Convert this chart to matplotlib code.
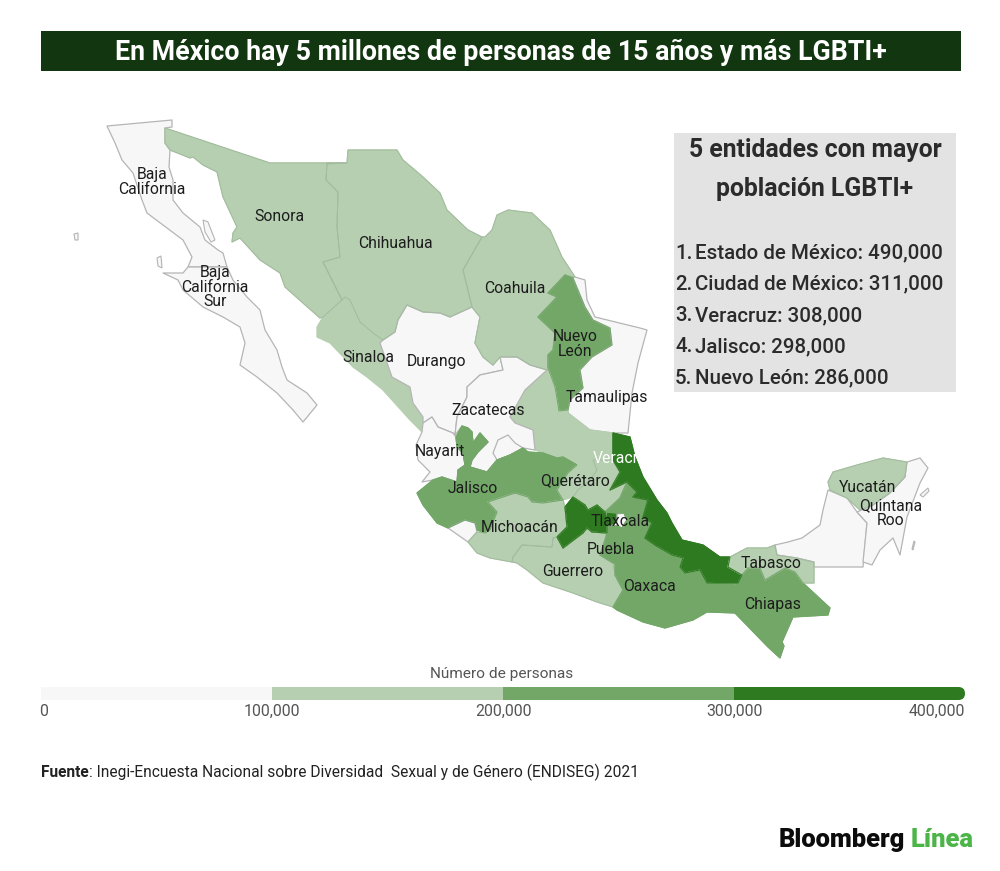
import numpy as np
import matplotlib
matplotlib.use("Agg")
import matplotlib.pyplot as plt
from matplotlib.patches import Polygon, Rectangle, FancyBboxPatch

plt.rcParams["font.family"] = ["Roboto", "DejaVu Sans"]

# estimated people per state, only the top five are printed in the source
states = ["Baja California", "Baja California Sur", "Sonora", "Chihuahua", "Sinaloa", "Durango",
          "Coahuila", "Nuevo Leon", "Tamaulipas", "San Luis Potosi", "Zacatecas", "Aguascalientes",
          "Nayarit", "Jalisco", "Colima", "Guanajuato", "Queretaro", "Hidalgo", "Michoacan",
          "Guerrero", "Estado de Mexico", "Ciudad de Mexico", "Tlaxcala", "Puebla", "Veracruz",
          "Oaxaca", "Chiapas", "Tabasco", "Campeche", "Yucatan", "Quintana Roo"]
values = [95000, 20000, 110000, 125000, 110000, 60000,
          120000, 286000, 95000, 105000, 60000, 50000,
          50000, 298000, 30000, 220000, 115000, 110000, 180000,
          120000, 490000, 311000, 50000, 240000, 308000,
          205000, 210000, 105000, 40000, 110000, 70000]

# state outlines, in image pixels
outlines = {
    "Baja California": [(107,126),(172,120),(172,127),(165,128),(165,143),(170,150),(169,167),(173,180),(173,200),(183,213),(200,227),(205,240),(218,250),(223,253),(227,267),(188,267),(192,257),(183,240),(163,225),(147,213),(142,200),(133,173),(122,160),(115,143)],
    "Baja California Sur": [(188,267),(227,267),(233,280),(247,297),(260,310),(265,330),(277,350),(282,367),(287,380),(307,393),(317,405),(303,422),(293,410),(277,393),(257,377),(240,365),(245,343),(240,327),(223,317),(203,307),(183,290),(178,280),(163,273),(183,273)],
    "Sonora": [(165,128),(270,163),(347,163),(327,164),(326,180),(338,192),(337,227),(340,257),(323,262),(337,290),(342,300),(323,317),(320,318),(303,303),(285,287),(280,273),(260,260),(240,238),(232,242),(233,233),(237,227),(223,197),(217,172),(203,165),(193,157),(190,158),(170,150),(165,143)],
    "Chihuahua": [(327,163),(347,163),(348,150),(397,150),(403,160),(423,177),(440,193),(447,210),(468,230),(482,237),(463,270),(472,307),(450,317),(440,313),(423,312),(407,305),(398,320),(395,332),(383,340),(373,333),(360,322),(350,300),(345,297),(342,300),(337,290),(323,262),(340,257),(337,227),(338,192),(326,180)],
    "Sinaloa": [(342,300),(345,297),(350,300),(360,322),(373,333),(383,340),(380,343),(392,377),(410,387),(413,403),(423,417),(422,432),(410,420),(383,390),(367,377),(353,367),(330,343),(317,337),(317,327),(323,317)],
    "Durango": [(398,320),(407,305),(423,312),(440,313),(450,317),(472,307),(480,317),(475,343),(483,357),(493,365),(500,357),(503,370),(480,375),(467,387),(467,397),(457,417),(455,435),(453,433),(438,427),(432,417),(423,423),(423,417),(413,403),(410,387),(392,377),(380,343),(383,340),(395,332)],
    "Coahuila": [(482,237),(485,237),(492,230),(497,215),(508,210),(532,213),(550,230),(562,257),(575,277),(565,275),(548,293),(557,297),(538,317),(555,333),(553,350),(548,355),(548,370),(547,370),(530,365),(517,357),(500,357),(493,365),(483,357),(475,343),(480,317),(472,307),(463,270)],
    "Nuevo Leon": [(565,275),(573,278),(585,307),(593,320),(610,328),(612,345),(592,357),(580,370),(583,388),(570,400),(568,410),(559,411),(555,387),(548,368),(548,355),(553,350),(555,333),(538,317),(557,297),(548,293)],
    "Tamaulipas": [(575,277),(585,280),(587,300),(595,317),(640,328),(647,330),(638,363),(632,393),(628,433),(613,433),(590,430),(568,413),(568,410),(570,400),(583,388),(580,370),(592,357),(612,345),(610,328),(593,320),(585,307),(573,278)],
    "San Luis Potosi": [(547,370),(548,368),(555,387),(559,411),(568,410),(568,413),(590,430),(613,433),(612,460),(593,460),(577,465),(563,457),(557,458),(535,450),(533,430),(515,423),(510,417),(525,390)],
    "Zacatecas": [(547,370),(530,365),(517,357),(500,357),(503,370),(480,375),(467,387),(467,397),(457,417),(455,435),(462,426),(468,428),(472,432),(473,443),(480,433),(488,442),(478,452),(472,460),(470,467),(487,472),(497,460),(510,455),(523,448),(535,450),(533,430),(515,423),(510,417),(525,390)],
    "Aguascalientes": [(497,460),(493,453),(498,440),(508,435),(515,443),(523,448),(510,455)],
    "Nayarit": [(422,432),(423,423),(432,417),(438,427),(453,433),(456,437),(457,447),(463,453),(465,465),(458,470),(457,482),(442,477),(433,480),(422,482),(430,472),(418,460),(416,445)],
    "Jalisco": [(462,426),(468,428),(472,432),(473,443),(480,433),(488,442),(478,452),(472,460),(470,467),(487,472),(497,460),(510,455),(523,448),(528,452),(520,465),(515,480),(515,493),(488,502),(497,512),(490,530),(485,533),(477,530),(475,523),(465,520),(448,528),(437,523),(423,505),(417,493),(433,480),(442,477),(457,482),(458,470),(465,465),(463,453),(457,447),(456,437)],
    "Colima": [(448,528),(465,520),(475,523),(477,532),(468,542)],
    "Guanajuato": [(528,452),(543,453),(557,458),(563,457),(577,465),(568,473),(557,490),(563,500),(543,503),(532,502),(528,497),(515,493),(515,480),(520,465)],
    "Queretaro": [(577,465),(593,460),(597,470),(590,480),(578,490),(573,497),(563,500),(557,490),(568,473)],
    "Hidalgo": [(593,460),(612,460),(620,472),(610,490),(627,482),(620,498),(605,512),(597,505),(588,510),(585,505),(573,497),(578,490),(590,480),(597,470)],
    "Michoacan": [(488,502),(515,493),(528,497),(532,502),(543,503),(563,500),(565,507),(567,527),(557,537),(553,538),(552,547),(522,545),(513,557),(512,562),(490,558),(477,553),(468,542),(477,532),(485,533),(490,530),(497,512)],
    "Guerrero": [(512,562),(513,557),(522,545),(552,547),(553,538),(557,537),(563,548),(583,533),(587,528),(592,532),(607,533),(605,540),(600,555),(613,563),(615,575),(623,590),(613,607),(597,602),(573,593),(543,583),(527,570),(517,563)],
    "Estado de Mexico": [(573,497),(585,505),(588,510),(597,505),(605,512),(607,522),(607,533),(592,532),(587,528),(583,533),(563,548),(557,537),(567,527),(565,507)],
    "Ciudad de Mexico": [(607,512),(617,513),(618,522),(607,526)],
    "Tlaxcala": [(617,514),(624,513),(627,520),(622,528),(617,526)],
    "Puebla": [(627,482),(637,492),(633,497),(648,500),(643,517),(652,523),(645,538),(658,547),(643,555),(630,562),(613,563),(600,555),(605,540),(607,533),(607,526),(617,526),(622,528),(627,520),(624,513),(617,513),(605,512),(620,498)],
    "Veracruz": [(613,433),(630,437),(635,457),(643,477),(657,500),(667,513),(672,523),(682,540),(703,545),(720,557),(730,557),(728,567),(742,575),(738,583),(707,583),(700,570),(685,573),(680,567),(683,558),(672,555),(658,547),(645,538),(652,523),(643,517),(648,500),(633,497),(637,492),(627,482),(610,490),(620,472),(613,460)],
    "Oaxaca": [(615,563),(630,562),(643,555),(658,547),(672,555),(683,558),(680,567),(685,573),(700,570),(707,583),(737,585),(728,603),(735,613),(707,612),(693,620),(665,628),(643,622),(617,610),(613,607),(623,590),(615,575)],
    "Chiapas": [(748,568),(760,568),(765,580),(785,568),(795,572),(803,583),(830,608),(828,615),(793,617),(782,642),(784,646),(780,658),(768,647),(735,613),(728,603),(737,585),(738,583),(742,575)],
    "Tabasco": [(730,557),(747,548),(767,548),(775,545),(777,555),(797,558),(814,562),(814,583),(803,583),(795,572),(785,568),(765,580),(760,568),(748,568),(742,575),(728,567)],
    "Campeche": [(775,545),(788,542),(802,538),(820,525),(823,510),(828,490),(847,498),(857,512),(867,523),(863,567),(814,567),(814,562),(797,558),(777,555)],
    "Yucatan": [(828,482),(833,472),(857,465),(883,458),(907,462),(905,477),(890,493),(873,505),(860,510),(847,498),(830,490)],
    "Quintana Roo": [(907,462),(920,458),(928,468),(920,483),(907,517),(900,555),(893,538),(880,550),(872,565),(863,562),(867,523),(857,512),(873,505),(890,493),(905,477)],
}
islands = [[(203,220),(208,222),(215,240),(211,242),(205,232)],
           [(157,258),(161,256),(162,268),(158,266)],
           [(920,495),(928,488),(929,491),(923,497)],
           [(912,549),(914,541),(915,542),(913,550)],
           [(74,234),(78,233),(78,240),(75,240)]]

map_labels = [("Baja\nCalifornia", 152, 182), ("Baja\nCalifornia\nSur", 215, 287), ("Sonora", 279, 216),
              ("Chihuahua", 395, 243), ("Coahuila", 515, 288), ("Nuevo\nLeón", 575, 344), ("Sinaloa", 368, 357),
              ("Durango", 437, 361), ("Tamaulipas", 607, 397), ("Zacatecas", 488, 410), ("Nayarit", 440, 451),
              ("Querétaro", 575, 481), ("Jalisco", 473, 488), ("Michoacán", 520, 527), ("Tlaxcala", 620, 521),
              ("Puebla", 611, 549), ("Guerrero", 573, 571), ("Oaxaca", 650, 586), ("Tabasco", 771, 563),
              ("Chiapas", 773, 604), ("Yucatán", 868, 487), ("Quintana\nRoo", 891, 513)]

top_five = ["Estado de México: 490,000", "Ciudad de México: 311,000", "Veracruz: 308,000",
            "Jalisco: 298,000", "Nuevo León: 286,000"]

legend_breaks = [0, 100000, 200000, 300000, 400000]
legend_colors = ["#f7f7f7", "#b5cfb0", "#72a768", "#2e7a20"]

fig = plt.figure(figsize=(10, 8.71), dpi=100)
ax = fig.add_axes([0, 0, 1, 1])
ax.set_xlim(0, 1000)
ax.set_ylim(871, 0)
ax.axis("off")

# title bar
ax.add_patch(Rectangle((41, 31), 920, 40, color="#12360f", lw=0))
ax.text(501, 52, "En México hay 5 millones de personas de 15 años y más LGBTI+", color="white",
        fontsize=19.3, fontweight="bold", ha="center", va="center")

# map
for name, val in zip(states, values):
    col = legend_colors[min(np.digitize(val, legend_breaks) - 1, 3)]
    ax.add_patch(Polygon(outlines[name], closed=True, facecolor=col, edgecolor=col if val >= 100000 else "#b5b5b5",
                         lw=0.9, joinstyle="round"))
# thin lines between states of the same class
for name in ["Sonora", "Chihuahua", "Coahuila", "Michoacan", "Guerrero", "Hidalgo", "Tabasco", "Yucatan"]:
    ax.add_patch(Polygon(outlines[name], closed=True, fill=False, edgecolor="#a3bb9f", lw=0.7))
for name in ["Nuevo Leon", "Jalisco", "Guanajuato", "Puebla", "Oaxaca", "Chiapas"]:
    ax.add_patch(Polygon(outlines[name], closed=True, fill=False, edgecolor="#72a768", lw=0.7))
for name in ["Estado de Mexico", "Veracruz"]:
    ax.add_patch(Polygon(outlines[name], closed=True, fill=False, edgecolor="#2e7a20", lw=0.7))
for isl in islands:
    ax.add_patch(Polygon(isl, closed=True, facecolor="#f7f7f7", edgecolor="#b5b5b5", lw=0.8))

for txt, x, y in map_labels:
    ax.text(x, y, txt, fontsize=11.3, color="#1c1c1c", ha="center", va="center", linespacing=0.95)
ax.text(593, 458, "Veracruz", fontsize=11.3, color="white", ha="left", va="center", zorder=5)

# top five box
ax.add_patch(Rectangle((674, 133), 282, 259, color="#e3e3e3", lw=0))
ax.text(815, 150, "5 entidades con mayor", fontsize=17.8, fontweight="bold", color="#2b2b2b", ha="center", va="center")
ax.text(815, 189, "población LGBTI+", fontsize=17.8, fontweight="bold", color="#2b2b2b", ha="center", va="center")
for i, line in enumerate(top_five):
    y = 253 + i * 31.3
    ax.text(675, y, f"{i + 1}.", fontsize=14.8, fontweight="medium", color="#2b2b2b", va="center")
    ax.text(695, y, line, fontsize=14.8, fontweight="medium", color="#2b2b2b", va="center")

# legend bar on its own value axis
ax_leg = fig.add_axes([41 / 1000, 1 - 700 / 871, 924 / 1000, 13 / 871])
ax_leg.set_xlim(legend_breaks[0], legend_breaks[-1])
ax_leg.set_ylim(0, 1)
ax_leg.axis("off")
bars = ax_leg.barh(0.5, np.diff(legend_breaks), left=legend_breaks[:-1], height=1, color=legend_colors, lw=0)
clip = FancyBboxPatch((41, 687), 924, 13, boxstyle="round,pad=0,rounding_size=6.5", transform=ax.transData)
bars[-1].set_clip_path(clip)

ax.text(502, 674, "Número de personas", fontsize=11.1, color="#555555", ha="center", va="center")
for i, b in enumerate(legend_breaks):
    x = 41 + 924 * b / legend_breaks[-1]
    ha = "left" if i == 0 else ("right" if i == 4 else "center")
    ax.text(x - 2 if i == 0 else x, 711, f"{b:,}", fontsize=11.4, color="#555555", ha=ha, va="center")

# source
fuente = ax.text(41, 772, "Fuente", fontsize=11.2, fontweight="bold", color="#222222", va="center")
ax.annotate(": Inegi-Encuesta Nacional sobre Diversidad  Sexual y de Género (ENDISEG) 2021", xy=(1, 0.5),
            xycoords=fuente, fontsize=11.2, color="#222222", va="center")

# logo
logo = ax.text(779, 840, "Bloomberg", fontsize=18.4, fontweight="heavy", color="#0c0c0c", va="center")
ax.annotate("Línea", xy=(1, 0.5), xycoords=logo, xytext=(4, 0), textcoords="offset points",
            fontsize=18.4, fontweight="heavy", color="#4cb548", va="center")

fig.savefig("out.png", dpi=100)
